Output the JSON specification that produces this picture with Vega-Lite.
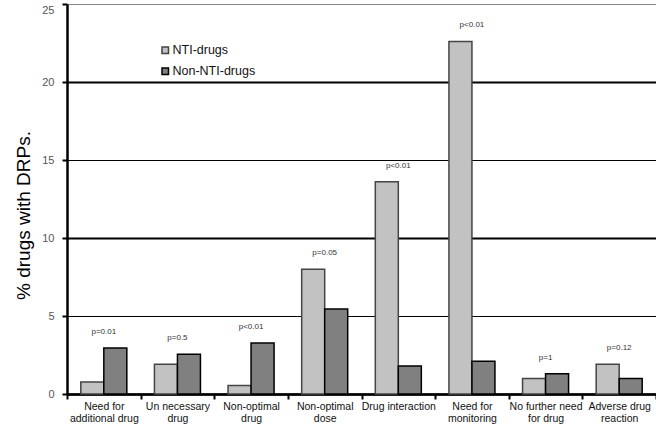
{
  "$schema": "https://vega.github.io/schema/vega-lite/v6.json",
  "width": 589,
  "height": 390,
  "autosize": "none",
  "padding": {"left": 67, "top": 4, "right": 0, "bottom": 34},
  "background": "white",
  "config": {"view": {"stroke": null}, "font": "Liberation Sans"},
  "data": {
    "values": [
      {"problem": "Need for|additional drug", "group": "NTI-drugs", "value": 0.77, "p": "p=0.01"},
      {"problem": "Need for|additional drug", "group": "Non-NTI-drugs", "value": 2.95, "p": "p=0.01"},
      {"problem": "Un necessary|drug", "group": "NTI-drugs", "value": 1.9, "p": "p=0.5"},
      {"problem": "Un necessary|drug", "group": "Non-NTI-drugs", "value": 2.55, "p": "p=0.5"},
      {"problem": "Non-optimal|drug", "group": "NTI-drugs", "value": 0.55, "p": "p<0.01"},
      {"problem": "Non-optimal|drug", "group": "Non-NTI-drugs", "value": 3.27, "p": "p<0.01"},
      {"problem": "Non-optimal|dose", "group": "NTI-drugs", "value": 8.0, "p": "p=0.05"},
      {"problem": "Non-optimal|dose", "group": "Non-NTI-drugs", "value": 5.45, "p": "p=0.05"},
      {"problem": "Drug interaction", "group": "NTI-drugs", "value": 13.6, "p": "p<0.01"},
      {"problem": "Drug interaction", "group": "Non-NTI-drugs", "value": 1.8, "p": "p<0.01"},
      {"problem": "Need for|monitoring", "group": "NTI-drugs", "value": 22.6, "p": "p<0.01"},
      {"problem": "Need for|monitoring", "group": "Non-NTI-drugs", "value": 2.1, "p": "p<0.01"},
      {"problem": "No further need|for drug", "group": "NTI-drugs", "value": 1.0, "p": "p=1"},
      {"problem": "No further need|for drug", "group": "Non-NTI-drugs", "value": 1.3, "p": "p=1"},
      {"problem": "Adverse drug|reaction", "group": "NTI-drugs", "value": 1.9, "p": "p=0.12"},
      {"problem": "Adverse drug|reaction", "group": "Non-NTI-drugs", "value": 1.0, "p": "p=0.12"}
    ]
  },
  "encoding": {
    "x": {
      "field": "problem",
      "type": "nominal",
      "sort": null,
      "scale": {"paddingInner": 0, "paddingOuter": 0},
      "axis": {
        "title": null,
        "labelAngle": 0,
        "labelExpr": "split(datum.label, '|')",
        "labelFontSize": 10.5,
        "labelColor": "#111",
        "labelPadding": 2,
        "labelLineHeight": 12.5,
        "tickBand": "extent",
        "tickColor": "black",
        "tickWidth": 2,
        "tickSize": 5,
        "domainColor": "black",
        "domainWidth": 2.5
      }
    }
  },
  "layer": [
    {
      "mark": {"type": "bar", "strokeWidth": 1.5},
      "encoding": {
        "xOffset": {"field": "group", "type": "nominal", "scale": {"paddingInner": 0, "paddingOuter": 0.6}},
        "y": {
          "field": "value",
          "type": "quantitative",
          "scale": {"domain": [0, 25], "nice": false},
          "axis": {
            "values": [0, 5, 10, 15, 20, 25],
            "title": "% drugs with DRPs.",
            "titleFontSize": 19,
            "titleFontWeight": "normal",
            "titleColor": "black",
            "titleX": -44,
            "titleY": 211,
            "titleAngle": -90,
            "titleAlign": "center",
            "titleBaseline": "middle",
            "labelColor": "#555",
            "labelFontSize": 11,
            "labelPadding": 8,
            "labelBaseline": {"condition": {"test": "datum.value == 25", "value": "top"}, "value": "middle"},
            "tickColor": "black",
            "tickWidth": 2,
            "tickSize": 5,
            "domainColor": "black",
            "domainWidth": 2.5,
            "grid": true,
            "gridColor": {"condition": {"test": "datum.value == 25", "value": "#888"}, "value": "black"},
            "gridWidth": {"condition": {"test": "datum.value % 10 == 0", "value": 2.2}, "value": 1}
          }
        },
        "fill": {
          "field": "group",
          "type": "nominal",
          "scale": {"domain": ["NTI-drugs", "Non-NTI-drugs"], "range": ["#c2c2c2", "#808080"]},
          "legend": {
            "title": null,
            "orient": "none",
            "legendX": 92,
            "legendY": 40,
            "symbolType": "square",
            "symbolSize": 42,
            "symbolStrokeColor": "black",
            "symbolStrokeWidth": 1.5,
            "labelFontSize": 12.5,
            "labelColor": "#111",
            "labelOffset": 1,
            "rowPadding": 8
          }
        },
        "stroke": {
          "field": "group",
          "type": "nominal",
          "scale": {"domain": ["NTI-drugs", "Non-NTI-drugs"], "range": ["#444", "#000"]},
          "legend": null
        }
      }
    },
    {
      "transform": [
        {"aggregate": [{"op": "max", "field": "value", "as": "top"}], "groupby": ["problem", "p"]}
      ],
      "mark": {"type": "text", "fontSize": 8, "color": "#333", "dy": -12, "baseline": "bottom"},
      "encoding": {
        "y": {"field": "top", "type": "quantitative"},
        "text": {"field": "p"}
      }
    }
  ]
}
